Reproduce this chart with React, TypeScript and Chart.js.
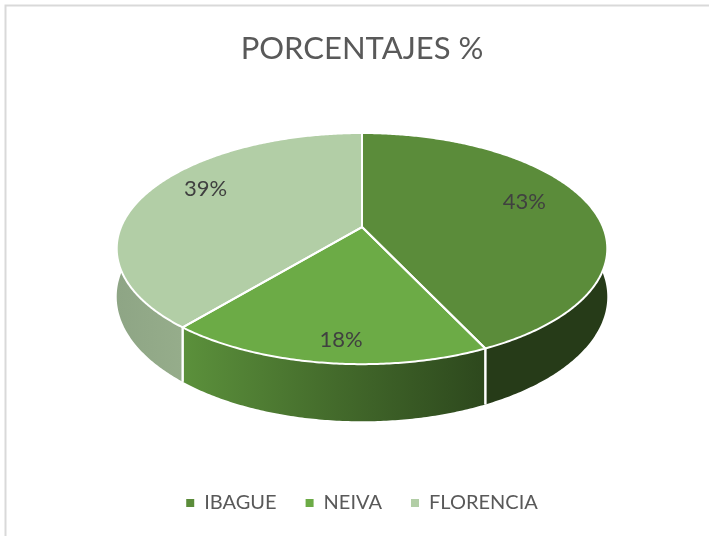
import React, { useEffect, useRef } from "react";
import { Chart, registerables } from "chart.js";
Chart.register(...registerables);

// ---- data ----
const TITLE = "PORCENTAJES %";
const categories = ["IBAGUE", "NEIVA", "FLORENCIA"];
const values = [43, 18, 39];
const valueLabels = ["43%", "18%", "39%"];
const colors = ["#5b8c3a", "#6cab46", "#b2cea6"];

const FONT = "Lato, 'Open Sans', sans-serif";

// side-wall lighting across the pie width (position 0..1 -> brightness)
const SHADE_STOPS: [number, number][] = [
  [0, 0.8],
  [0.14, 0.84],
  [0.45, 0.62],
  [0.75, 0.42],
  [1, 0.42],
];

function shadeHex(hex: string, f: number): string {
  const n = parseInt(hex.slice(1), 16);
  const r = Math.round(((n >> 16) & 255) * f);
  const g = Math.round(((n >> 8) & 255) * f);
  const b = Math.round((n & 255) * f);
  return `rgb(${r},${g},${b})`;
}

export default function App() {
  const ref = useRef<HTMLCanvasElement>(null);

  useEffect(() => {
    const canvas = ref.current!;
    const TILT = 0.463; // vertical squash of the disc
    const PERSP = 0.186; // perspective strength
    const DEPTH = 0.193; // thickness relative to radius

    const pie3d = {
      id: "pie3d",
      beforeDraw(chart: any) {
        const ctx = chart.ctx;
        ctx.save();
        ctx.strokeStyle = "#d9d9d9";
        ctx.lineWidth = 2;
        ctx.strokeRect(5.5, 5.5, chart.width + 20, chart.height + 20);
        ctx.restore();
      },
      beforeDatasetsDraw(chart: any) {
        const ctx: CanvasRenderingContext2D = chart.ctx;
        const arcs: any[] = chart.getDatasetMeta(0).data;
        if (!arcs.length) return false;
        const cx = arcs[0].x;
        const A = arcs[0].outerRadius;
        const B = A * TILT;
        const D = A * DEPTH;
        const cy0 = chart.chartArea.top + B / (1 + PERSP);

        const proj = (a: number, r: number, z: number): [number, number] => {
          const u = r * Math.cos(a);
          const v = -r * Math.sin(a);
          const den = 1 + PERSP * v;
          return [cx + (A * u) / den, cy0 - (B * v) / den + (z * D) / den];
        };
        const rim = (a1: number, a2: number, z: number, first: boolean) => {
          const n = Math.max(2, Math.ceil(Math.abs(a2 - a1) / 0.01));
          for (let k = 0; k <= n; k++) {
            const [x, y] = proj(a1 + ((a2 - a1) * k) / n, 1, z);
            if (k === 0 && first) ctx.moveTo(x, y);
            else ctx.lineTo(x, y);
          }
        };

        ctx.save();
        // side walls
        const ranges = [
          [0, Math.PI],
          [2 * Math.PI, 3 * Math.PI],
        ];
        const left = cx - A * 1.02;
        const right = cx + A * 1.02;
        arcs.forEach((arc, i) => {
          for (const [lo, hi] of ranges) {
            const a1 = Math.max(arc.startAngle, lo);
            const a2 = Math.min(arc.endAngle, hi);
            if (a2 <= a1) continue;
            const g = ctx.createLinearGradient(left, 0, right, 0);
            SHADE_STOPS.forEach(([t, f]) => g.addColorStop(t, shadeHex(colors[i], f)));
            ctx.beginPath();
            rim(a1, a2, 0, true);
            rim(a2, a1, 1, false);
            ctx.closePath();
            ctx.fillStyle = g;
            ctx.fill();
          }
        });
        // side dividers
        ctx.strokeStyle = "#ffffff";
        ctx.lineWidth = 2;
        arcs.forEach((arc) => {
          for (const b of [arc.startAngle, arc.endAngle]) {
            const s = Math.sin(b);
            if (s > 0.02) {
              const [x1, y1] = proj(b, 1, 0);
              const [x2, y2] = proj(b, 1, 1);
              ctx.beginPath();
              ctx.moveTo(x1, y1);
              ctx.lineTo(x2, y2);
              ctx.stroke();
            }
          }
        });
        // top faces
        const faces = arcs.map((arc) => {
          const p = new Path2D();
          const [x0, y0] = proj(0, 0, 0);
          p.moveTo(x0, y0);
          const n = Math.max(2, Math.ceil((arc.endAngle - arc.startAngle) / 0.01));
          for (let k = 0; k <= n; k++) {
            const [x, y] = proj(arc.startAngle + ((arc.endAngle - arc.startAngle) * k) / n, 1, 0);
            p.lineTo(x, y);
          }
          p.closePath();
          return p;
        });
        faces.forEach((p, i) => {
          ctx.fillStyle = colors[i];
          ctx.fill(p);
        });
        ctx.lineJoin = "round";
        ctx.strokeStyle = "#ffffff";
        ctx.lineWidth = 2;
        faces.forEach((p) => ctx.stroke(p));

        // value labels
        ctx.fillStyle = "#404040";
        ctx.font = `22px ${FONT}`;
        ctx.textAlign = "center";
        ctx.textBaseline = "middle";
        arcs.forEach((arc, i) => {
          const mid = (arc.startAngle + arc.endAngle) / 2;
          const u = Math.cos(mid);
          const v = -Math.sin(mid);
          ctx.fillText(valueLabels[i], cx + 0.69 * A * u, cy0 - 0.47 * A * v);
        });
        ctx.restore();
        return false;
      },
    };

    const chart = new Chart(canvas, {
      type: "pie",
      data: {
        labels: categories,
        datasets: [
          {
            data: values,
            backgroundColor: colors,
            borderWidth: 0,
          },
        ],
      },
      options: {
        responsive: false,
        animation: false,
        events: [],
        radius: 241,
        layout: { padding: { left: 15, right: 0, top: 0, bottom: 13 } },
        plugins: {
          title: {
            display: true,
            text: TITLE,
            color: "#595959",
            font: { family: FONT, size: 31, weight: "normal" },
            padding: { top: 30, bottom: 65.8 },
          },
          legend: {
            position: "bottom",
            labels: {
              boxWidth: 8,
              boxHeight: 8,
              padding: 29,
              color: "#595959",
              font: { family: FONT, size: 20 },
            },
          },
          tooltip: { enabled: false },
        },
      } as any,
      plugins: [pie3d as any],
    });
    return () => chart.destroy();
  }, []);

  return (
    <div style={{ position: "absolute", left: 0, top: 0, width: 709, height: 536, background: "#fff" }}>
      <canvas ref={ref} width={709} height={536} style={{ width: 709, height: 536, display: "block" }} />
    </div>
  );
}
